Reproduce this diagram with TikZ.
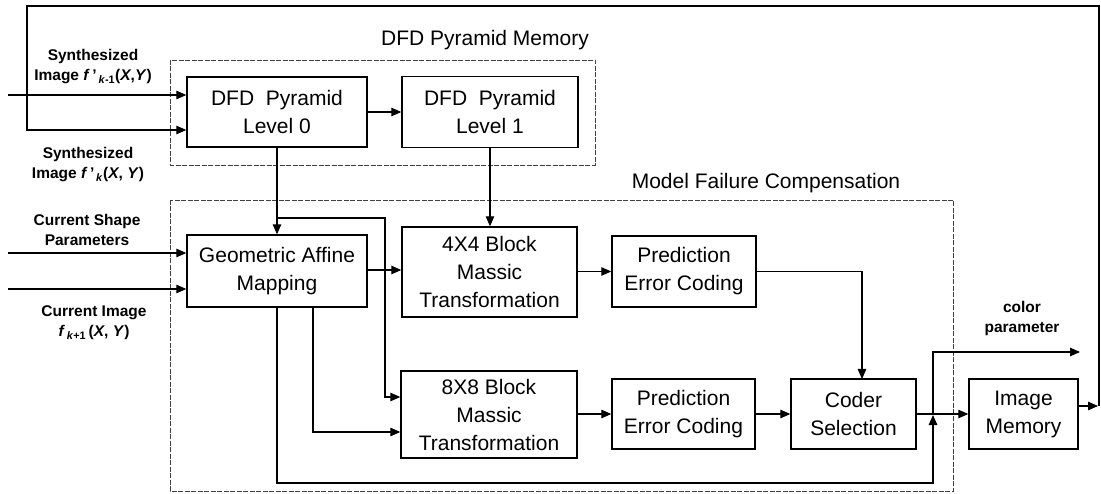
\documentclass[tikz,border=0pt]{standalone}
\usepackage{fontspec}
\setmainfont{Liberation Sans}
\usetikzlibrary{arrows.meta,calc}

\tikzset{
  blk/.style={draw, line width=1.4pt, align=center, inner sep=0pt,
    font=\fontsize{21}{28}\selectfont},
  lbl/.style={align=center, inner sep=0pt,
    font=\fontsize{15.5}{20}\selectfont\bfseries},
  ttl/.style={inner sep=0pt, font=\fontsize{21}{26}\selectfont},
  grp/.style={draw=black!75, line width=0.9pt, dash pattern=on 5pt off 1.5pt},
  wire/.style={line width=1.2pt},
  arr/.style={wire, -{Triangle[length=10pt,width=8.5pt]}}
}

\begin{document}
\begin{tikzpicture}[x=1pt,y=-1pt]
\useasboundingbox (0,0) rectangle (1101,494);

% grouping frames
\draw[grp] (170,60) rectangle (595,165);
\draw[grp] (170,200) rectangle (953,491);
\node[ttl] (tMem) at (485,40) {DFD Pyramid Memory};
\node[ttl] (tMfc) at (766,183) {Model Failure Compensation};

% blocks
\node[blk, minimum width=180pt, minimum height=70pt] (L0) at (277,112) {DFD\ \ Pyramid\\Level 0};
\node[blk, minimum width=176pt, minimum height=71pt] (L1) at (490,112) {DFD\ \ Pyramid\\Level 1};
\node[blk, minimum width=180pt, minimum height=72pt] (GAM) at (277,271) {Geometric Affine\\Mapping};
\node[blk, minimum width=175pt, minimum height=90pt] (B4) at (489.5,272) {4X4 Block\\Massic\\Transformation};
\node[blk, minimum width=144pt, minimum height=71pt] (PE1) at (684,271.5) {Prediction\\Error Coding};
\node[blk, minimum width=176pt, minimum height=87pt] (B8) at (489,414.5) {8X8 Block\\Massic\\Transformation};
\node[blk, minimum width=143pt, minimum height=70pt] (PE2) at (683.5,414) {Prediction\\Error Coding};
\node[blk, minimum width=125pt, minimum height=70pt] (CS) at (853.5,414) {Coder\\Selection};
\node[blk, minimum width=109pt, minimum height=70pt] (IM) at (1023.5,414) {Image\\Memory};

% side labels
\node[lbl] (lS1) at (93,67) {Synthesized\\Image \textit{f}\,'\textsubscript{\,\textit{k}-1}(\textit{X},\textit{Y})};
\node[lbl] (lS0) at (88,165) {Synthesized\\Image \textit{f}\,'\textsubscript{\,\textit{k}}(\textit{X}, \textit{Y})};
\node[lbl] (lCS) at (87,230) {Current Shape\\Parameters};
\node[lbl] (lCI) at (94,323) {Current Image\\\textit{f}\textsubscript{\,\textit{k}+1}\,(\textit{X}, \textit{Y})};
\node[lbl] (lCP) at (1022,318) {color\\parameter};

% free ends and bends
\coordinate (inS1) at (8,95);
\coordinate (inCS) at (8,253);
\coordinate (inCI) at (8,289);
\coordinate (fbR) at (1099,406);
\coordinate (fbTL) at (27,6);
\coordinate (br) at (277,218);
\coordinate (brX) at (385,218);
\coordinate (g2) at (313,307);
\coordinate (jB) at (933,483);
\coordinate (jN) at (933,415);
\coordinate (cpEnd) at (1080,352);
\coordinate (csIn) at (862,379);

% inputs
\draw[arr] (inS1) -- (inS1 -| L0.west);
\draw[arr] (inCS) -- (inCS -| GAM.west);
\draw[arr] (inCI) -- (inCI -| GAM.west);

% feedback from image memory
\draw[arr] (IM.east |- fbR) -- ($(fbR)+(-1,0)$);
\draw[arr] (fbR) |- (fbTL) |- (L0.west |- 0,130);

% pyramid
\draw[arr] (L0) -- (L1);
\draw[arr] (L0.south) -- (GAM.north);
\draw[arr] (br) -- (brX) |- (B8.west |- 0,397);
\draw[arr] (L1.south) -- (L1.south |- B4.north);

% transformations
\draw[arr] (GAM.east |- 0,270) -- (B4.west |- 0,270);
\draw[arr] (g2) |- (B8.west |- 0,432);
\draw[arr] (B4.east |- PE1) -- (PE1.west);
\draw[arr] (B8.east |- PE2) -- (PE2.west);
\draw[arr] (PE1.east) -| (csIn);
\draw[arr] (PE2) -- (CS);
\draw[arr] (CS) -- (IM);

% bypass and colour parameter
\draw[arr] (GAM.south) |- (jB) -- (jN);
\draw[arr] (jN) |- (cpEnd);
\end{tikzpicture}
\end{document}
